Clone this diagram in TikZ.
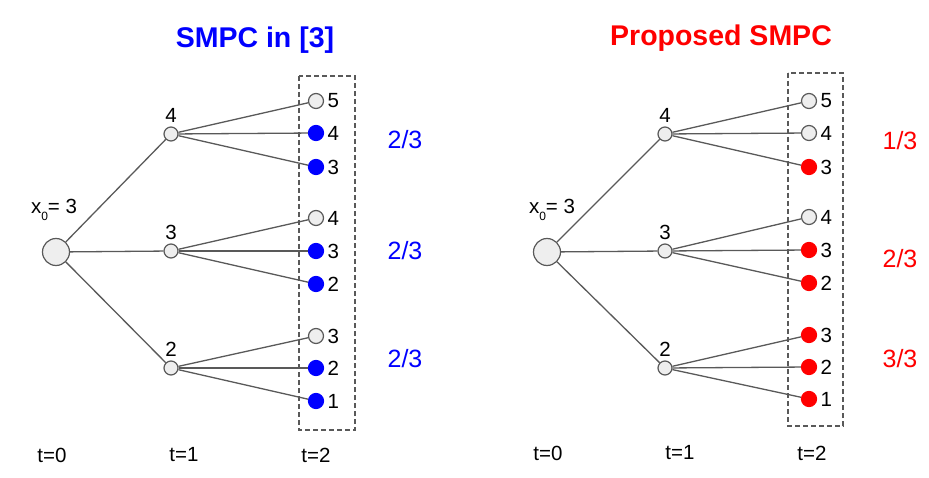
\documentclass[tikz,border=0pt]{standalone}
\usepackage{fontspec}
\setmainfont{Liberation Sans}
\definecolor{linegray}{HTML}{595959}
\definecolor{nodegray}{HTML}{EEEEEE}
\definecolor{pureblue}{HTML}{0000FF}
\definecolor{purered}{HTML}{FF0000}
\begin{document}
\begin{tikzpicture}
            [x=1pt, y=-1pt, font=\fontsize{20.5}{24}\selectfont,
            root/.style={circle, draw=linegray, fill=nodegray, line width=1.2pt, minimum size=27pt, inner sep=0pt},
            mid/.style={circle, draw=linegray, fill=nodegray, line width=1.2pt, minimum size=14pt, inner sep=0pt,
                label distance=7.5pt},
            leaf/.style={circle, draw=linegray, fill=nodegray, line width=1.2pt, minimum size=15pt, inner sep=0pt,
                label distance=3.5pt},
            hitblue/.style={leaf, draw=pureblue, fill=pureblue},
            hitred/.style={leaf, draw=purered, fill=purered},
            edge/.style={linegray, line width=1.3pt},
            window/.style={linegray, line width=1.2pt, dash pattern=on 5pt off 3pt},
            title/.style={font=\fontsize{28.5}{32}\selectfont\bfseries},
            ratio/.style={font=\fontsize{25}{28}\selectfont}]

            \useasboundingbox (0,0) rectangle (929,478);

            % SMPC in [3]
            \node[title, text=pureblue] (titleL) at (255,40) {SMPC in [3]};
            \draw[window] (299,76) rectangle (355,430);

            \node[root] (rL) at (56,252) {};
            \node (x0L) at (54,210) {x\raisebox{-0.6ex}{\fontsize{12}{12}\selectfont 0}= 3};
            \node[mid, label=above:4] (aL) at (171,134) {};
            \node[mid, label=above:3] (bL) at (171,251) {};
            \node[mid, label=above:2] (cL) at (171,368) {};

            \node[leaf, label=right:5] (a1L) at (316,101) {};
            \node[hitblue, label=right:4] (a2L) at (316,133) {};
            \node[hitblue, label=right:3] (a3L) at (316,167) {};
            \node[leaf, label=right:4] (b1L) at (316,218) {};
            \node[hitblue, label=right:3] (b2L) at (316,251) {};
            \node[hitblue, label=right:2] (b3L) at (316,284) {};
            \node[leaf, label=right:3] (c1L) at (316,336) {};
            \node[hitblue, label=right:2] (c2L) at (316,368) {};
            \node[hitblue, label=right:1] (c3L) at (316,401) {};

            \draw[edge] (rL) -- (aL);
            \draw[edge] (rL) -- (bL);
            \draw[edge] (rL) -- (cL);
            \draw[edge] (aL) -- (a1L);
            \draw[edge] (aL) -- (a2L);
            \draw[edge] (aL) -- (a3L);
            \draw[edge] (bL) -- (b1L);
            \draw[edge] (bL) -- (b2L);
            \draw[edge] (bL) -- (b3L);
            \draw[edge] (cL) -- (c1L);
            \draw[edge] (cL) -- (c2L);
            \draw[edge] (cL) -- (c3L);

            \node[ratio, text=pureblue] (pa) at (405,140) {2/3};
            \node[ratio, text=pureblue] (pb) at (405,251) {2/3};
            \node[ratio, text=pureblue] (pc) at (405,359) {2/3};

            \node (t0L) at (52,455) {t=0};
            \node (t1L) at (184,455) {t=1};
            \node (t2L) at (316,455) {t=2};

            % Proposed SMPC
            \node[title, text=purered] (titleR) at (721,38) {Proposed SMPC};
            \draw[window] (788,73) rectangle (843,426);

            \node[root] (rR) at (547,252) {};
            \node (x0R) at (552,210) {x\raisebox{-0.6ex}{\fontsize{12}{12}\selectfont 0}= 3};
            \node[mid, label=above:4] (aR) at (665,134) {};
            \node[mid, label=above:3] (bR) at (665,251) {};
            \node[mid, label=above:2] (cR) at (665,368) {};

            \node[leaf, label=right:5] (a1R) at (809,101) {};
            \node[leaf, label=right:4] (a2R) at (809,133) {};
            \node[hitred, label=right:3] (a3R) at (809,167) {};
            \node[leaf, label=right:4] (b1R) at (809,217) {};
            \node[hitred, label=right:3] (b2R) at (809,250) {};
            \node[hitred, label=right:2] (b3R) at (809,283) {};
            \node[hitred, label=right:3] (c1R) at (809,335) {};
            \node[hitred, label=right:2] (c2R) at (809,367) {};
            \node[hitred, label=right:1] (c3R) at (809,399) {};

            \draw[edge] (rR) -- (aR);
            \draw[edge] (rR) -- (bR);
            \draw[edge] (rR) -- (cR);
            \draw[edge] (aR) -- (a1R);
            \draw[edge] (aR) -- (a2R);
            \draw[edge] (aR) -- (a3R);
            \draw[edge] (bR) -- (b1R);
            \draw[edge] (bR) -- (b2R);
            \draw[edge] (bR) -- (b3R);
            \draw[edge] (cR) -- (c1R);
            \draw[edge] (cR) -- (c2R);
            \draw[edge] (cR) -- (c3R);

            \node[ratio, text=purered] (qa) at (900,141) {1/3};
            \node[ratio, text=purered] (qb) at (900,259) {2/3};
            \node[ratio, text=purered] (qc) at (900,359) {3/3};

            \node (t0R) at (548,453) {t=0};
            \node (t1R) at (680,453) {t=1};
            \node (t2R) at (812,453) {t=2};

        \end{tikzpicture}
\end{document}
